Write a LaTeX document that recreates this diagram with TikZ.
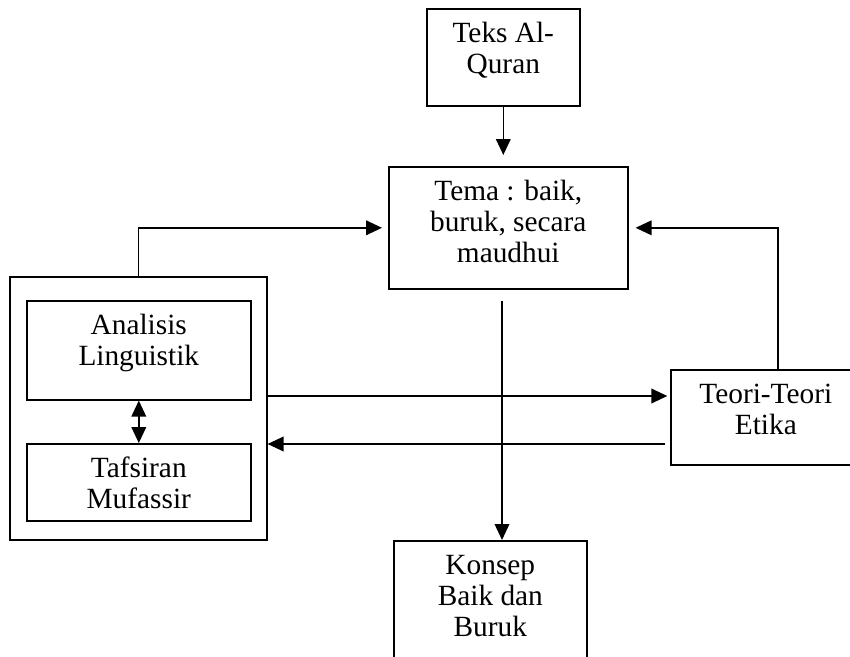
\documentclass[tikz,border=0pt]{standalone}
\usepackage{fontspec}
\setmainfont{Liberation Serif}
\usetikzlibrary{arrows.meta, positioning, calc}
\newdimen\px \px=0.75pt
% text box: width, height (px), lines set from the top
\newcommand{\boxtxt}[3]{\parbox[c][#2\px][t]{#1\px}{\centering\rule{0pt}{34\px}#3}}

\begin{document}
\begin{tikzpicture}[
  x=0.75pt, y=-0.75pt,
  box/.style={
    draw, line width=1.2pt, inner sep=0pt, anchor=north west,
    font=\fontsize{22}{23.25}\selectfont
  },
  flow/.style={
    draw, line width=1.2pt,
    -{Triangle[length=12pt, width=11pt]}
  },
  both/.style={
    draw, line width=1.2pt,
    {Triangle[length=12pt, width=11pt]}-{Triangle[length=12pt, width=11pt]}
  },
]
\useasboundingbox (0,0) rectangle (850,657);
\clip (0,0) rectangle (850,657);

%% boxes
\node[box] (teks)     at (426,8)   {\boxtxt{153}{97}{Teks Al-\\Quran}};
\node[box] (tema)     at (388,166) {\boxtxt{239}{122}{Tema : baik,\\buruk, secara\\maudhui}};
\node[box] (grp)      at (9,276)   {\boxtxt{257}{263}{}};
\node[box] (analisis) at (26,300)  {\boxtxt{224}{99}{Analisis\\Linguistik}};
\node[box] (tafsiran) at (26,443)  {\boxtxt{224}{77}{Tafsiran\\Mufassir}};
\node[box] (teori)    at (670,369) {\boxtxt{190}{95}{Teori-Teori\\Etika}};
\node[box] (konsep)   at (393,540) {\boxtxt{193}{150}{Konsep\\Baik dan\\Buruk}};

%% helper levels
\coordinate (upr)   at (0,396);
\coordinate (lwr)   at (0,444);
\coordinate (vline) at (502,0);
\coordinate (riser) at (778,0);

%% connectors
\draw[flow, shorten >=8.25pt] (teks.south) -- (teks.south |- tema.north);
\draw[flow, shorten >=4.5pt]  (grp.north) |- (tema.west);
\draw[flow, shorten >=5.25pt] (teori.north -| riser) |- (tema.east);
\draw[flow, shorten >=2pt]    (grp.east |- upr) -- (teori.west |- upr);
\draw[flow, shorten <=3.75pt] (teori.west |- lwr) -- (grp.east |- lwr);
\draw[flow, shorten <=8.25pt] (tema.south -| vline) -- (konsep.north -| vline);
\draw[both] (analisis) -- (tafsiran);

\end{tikzpicture}
\end{document}
